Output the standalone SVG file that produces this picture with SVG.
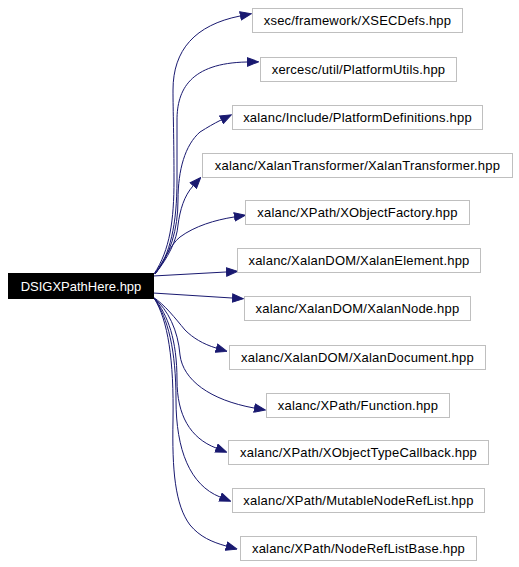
<svg xmlns="http://www.w3.org/2000/svg" width="519" height="567" viewBox="0 0 519 567">
<style>
  .node rect { fill: #ffffff; stroke: #bfbfbf; stroke-width: 1; }
  .node text { font-family: "Liberation Sans", Arial, sans-serif; font-size: 13px; fill: #000000; text-anchor: middle; letter-spacing: 0.2px; }
  #main rect { fill: #000000; stroke: #000000; }
  #main text { fill: #ffffff; letter-spacing: 0; }
  .edge { fill: none; stroke: #191970; stroke-width: 1; marker-end: url(#arrow); }
</style>
<defs>
  <marker id="arrow" markerUnits="userSpaceOnUse" markerWidth="12" markerHeight="10" refX="0" refY="0" orient="auto" viewBox="0 -5 12 10">
    <path d="M0.5,-4.2 L11.5,0 L0.5,4.2 z" fill="#191970" stroke="#191970" stroke-width="1"/>
  </marker>
</defs>
<rect width="519" height="567" fill="#ffffff"/>
<g id="edges">
  <path class="edge" d="M154,274 C170,250 174,220 174,180 C174,140 173,110 173,90 C173,50 195,25 240,16"/>
  <path class="edge" d="M155,274 C170,255 177,225 177,180 L177,120 C177,90 190,63 247,62"/>
  <path class="edge" d="M155,274 C170,255 178,230 178,200 C178,170 185,145 200,132 C208,127 213,124 221,120"/>
  <path class="edge" d="M155,274 C168,258 177,240 178,225 C180,210 184,196 193,186"/>
  <path class="edge" d="M155,273 C165,260 170,245 180,237 C195,226 215,220 234,217"/>
  <path class="edge" d="M153,276 L226,272"/>
  <path class="edge" d="M153,293 L232,298"/>
  <path class="edge" d="M153,297 C165,305 175,318 185,330 C193,338 203,344 216,348"/>
  <path class="edge" d="M154,298 C168,310 178,330 180,355 C183,380 210,400 254,408"/>
  <path class="edge" d="M154,298 C168,315 177,340 177,380 C177,415 190,438 216,448"/>
  <path class="edge" d="M154,298 C168,318 176,350 176,400 C176,450 190,485 220,497"/>
  <path class="edge" d="M154,298 C168,320 174,360 173,420 C172,470 175,505 190,525 C200,537 212,542 226,546"/>
</g>
<g id="main" class="node"><rect x="8.5" y="273.5" width="145" height="25"/><text x="81" y="290.5">DSIGXPathHere.hpp</text></g>
<g id="n1" class="node"><rect x="252.5" y="8.5" width="210" height="24"/><text x="357.5" y="25">xsec/framework/XSECDefs.hpp</text></g>
<g id="n2" class="node"><rect x="260.5" y="57.5" width="196" height="24"/><text x="358.5" y="74">xercesc/util/PlatformUtils.hpp</text></g>
<g id="n3" class="node"><rect x="232.5" y="105.5" width="250" height="24"/><text x="357.5" y="122">xalanc/Include/PlatformDefinitions.hpp</text></g>
<g id="n4" class="node"><rect x="202.5" y="153.5" width="310" height="24"/><text x="357.5" y="170">xalanc/XalanTransformer/XalanTransformer.hpp</text></g>
<g id="n5" class="node"><rect x="245.5" y="200.5" width="224" height="24"/><text x="357.5" y="217">xalanc/XPath/XObjectFactory.hpp</text></g>
<g id="n6" class="node"><rect x="237.5" y="248.5" width="243" height="24"/><text x="359" y="265">xalanc/XalanDOM/XalanElement.hpp</text></g>
<g id="n7" class="node"><rect x="244.5" y="296.5" width="226" height="24"/><text x="357.5" y="313">xalanc/XalanDOM/XalanNode.hpp</text></g>
<g id="n8" class="node"><rect x="229.5" y="345.5" width="256" height="24"/><text x="357.5" y="362">xalanc/XalanDOM/XalanDocument.hpp</text></g>
<g id="n9" class="node"><rect x="266.5" y="393.5" width="183" height="24"/><text x="358" y="410">xalanc/XPath/Function.hpp</text></g>
<g id="n10" class="node"><rect x="228.5" y="440.5" width="260" height="24"/><text x="358.5" y="457">xalanc/XPath/XObjectTypeCallback.hpp</text></g>
<g id="n11" class="node"><rect x="232.5" y="488.5" width="252" height="24"/><text x="358.5" y="505">xalanc/XPath/MutableNodeRefList.hpp</text></g>
<g id="n12" class="node"><rect x="240.5" y="536.5" width="236" height="24"/><text x="358.5" y="553">xalanc/XPath/NodeRefListBase.hpp</text></g>
</svg>
